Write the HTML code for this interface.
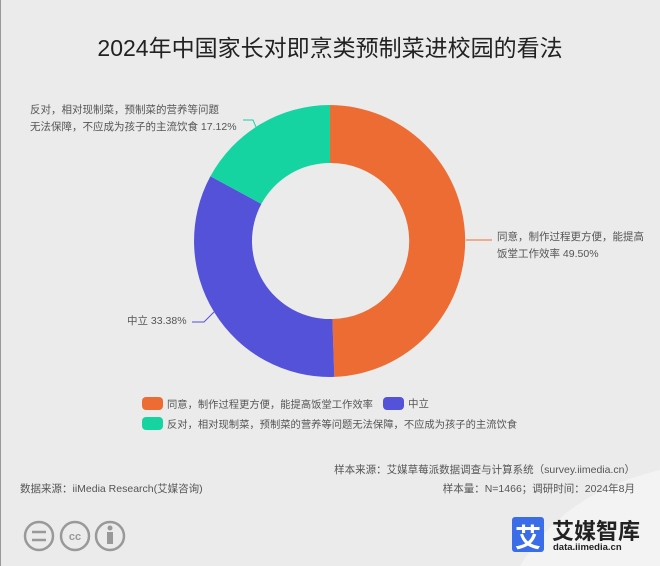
<!DOCTYPE html>
<html><head><meta charset="utf-8"><style>
html,body{margin:0;padding:0}
body{width:660px;height:566px;background:#ebebeb;position:relative;overflow:hidden;font-family:"Liberation Sans","Noto Sans CJK SC",sans-serif;color:#555}
.t{position:absolute;white-space:nowrap}
</style></head><body>
<div style="position:absolute;left:0;top:0;width:1px;height:566px;background:#999"></div>
<div class="t" style="left:0;width:660px;text-align:center;top:29px;font-size:23px;color:#222">2024年中国家长对即烹类预制菜进校园的看法</div>
<svg width="660" height="566" style="position:absolute;left:0;top:0">
<path d="M520,566 C560,500 620,480 660,470 L660,566 Z" fill="#f3f3f3"/>
<path d="M330,105 A136,136 0 0 1 334.3,376.9 L332.4,319 A78,78 0 0 0 330,163 Z" fill="#ec6c33"/>
<path d="M334.3,376.9 A136,136 0 0 1 210.4,176.3 L261.4,203.9 A78,78 0 0 0 332.4,319 Z" fill="#5452d8"/>
<path d="M210.4,176.3 A136,136 0 0 1 330,105 L330,163 A78,78 0 0 0 261.4,203.9 Z" fill="#16d4a2"/>
<polyline points="466,240 492,240" fill="none" stroke="#ec6c33" stroke-width="1"/>
<polyline points="192,322 204,322 214,312" fill="none" stroke="#5452d8" stroke-width="1"/>
<polyline points="243,120 253,120 259,134" fill="none" stroke="#16d4a2" stroke-width="1"/>
<rect x="142" y="397" width="21" height="13" rx="4" fill="#ec6c33"/>
<rect x="383" y="397" width="21" height="13" rx="4" fill="#5452d8"/>
<rect x="142" y="417" width="21" height="13" rx="4" fill="#16d4a2"/>
<g fill="none" stroke="#999" stroke-width="2.5">
<circle cx="39" cy="536" r="14"/><circle cx="75" cy="536" r="14"/><circle cx="110" cy="536" r="14"/>
</g>
<g stroke="#999" stroke-width="2.5"><line x1="32" y1="532" x2="46" y2="532"/><line x1="32" y1="540" x2="46" y2="540"/></g>
<text x="75" y="540" text-anchor="middle" font-size="11" fill="#999" font-weight="bold" font-family="Liberation Sans">cc</text>
<circle cx="110" cy="528" r="2.5" fill="#999"/><rect x="107" y="532" width="6" height="12" fill="#999"/>
<rect x="512" y="517" width="32" height="35" rx="3" fill="#3b6de8"/>
</svg>
<div class="t" style="left:515px;top:518px;font-size:26px;color:#fff;font-weight:bold">艾</div>
<div class="t" style="left:552px;top:514px;font-size:22px;color:#222;font-weight:bold">艾媒智库</div>
<div class="t" style="left:553px;top:542px;font-size:9.5px;color:#222;font-weight:bold">data.iimedia.cn</div>
<div class="t" style="left:497px;top:229px;font-size:10.5px;line-height:17px">同意，制作过程更方便，能提高<br>饭堂工作效率 49.50%</div>
<div class="t" style="left:127px;top:313px;font-size:10.5px">中立 33.38%</div>
<div class="t" style="left:30px;top:102px;font-size:10.5px;line-height:17px">反对，相对现制菜，预制菜的营养等问题<br>无法保障，不应成为孩子的主流饮食 17.12%</div>
<div class="t" style="left:167px;top:396px;font-size:10.3px">同意，制作过程更方便，能提高饭堂工作效率</div>
<div class="t" style="left:408px;top:396px;font-size:10.5px">中立</div>
<div class="t" style="left:167px;top:416px;font-size:10.3px">反对，相对现制菜，预制菜的营养等问题无法保障，不应成为孩子的主流饮食</div>
<div class="t" style="right:25px;top:462px;font-size:10.5px">样本来源：艾媒草莓派数据调查与计算系统（survey.iimedia.cn）</div>
<div class="t" style="right:25px;top:481px;font-size:10.5px">样本量：N=1466；调研时间：2024年8月</div>
<div class="t" style="left:20px;top:481px;font-size:10.5px">数据来源：iiMedia Research(艾媒咨询)</div>
</body></html>
